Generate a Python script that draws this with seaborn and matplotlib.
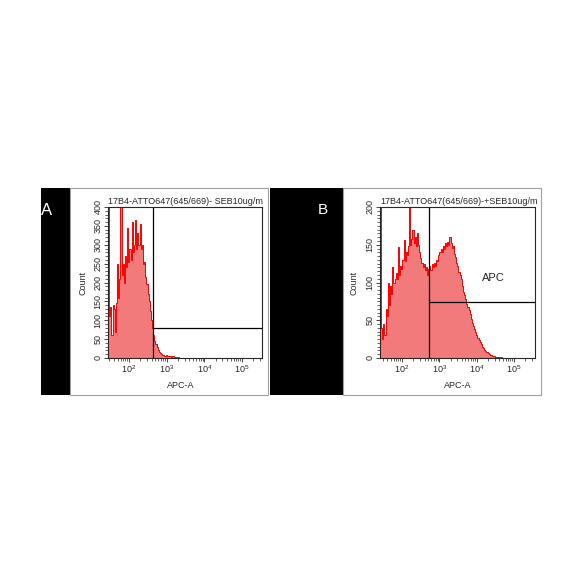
import numpy as np
import pandas as pd
import seaborn as sns
import matplotlib.pyplot as plt
from matplotlib.patches import Rectangle
from matplotlib.ticker import MultipleLocator

# =============================================================================
# DONNEES
# =============================================================================
# largeur des classes en log10, debut de chaque histogramme
largeur_bin = 0.03
debut_a = 1.44
debut_b = 1.41

# Panneau A : -SEB
counts_a = [430, 110, 135, 60, 140, 130, 70, 145, 250, 160,
            210, 410, 220, 250, 200, 270, 240, 345, 255, 290,
            260, 360, 280, 300, 365, 290, 330, 300, 355, 290,
            300, 250, 255, 215, 195, 170, 150, 125, 100, 80,
            60, 45, 36, 28, 22, 16, 13, 11, 8, 9,
            6, 7, 5, 6, 4, 5, 3, 4, 2, 3,
            2, 1, 2, 1, 1, 0, 1]

# Panneau B : +SEB
counts_b = [230, 40, 25, 45, 30, 65, 55, 99, 70, 95,
            85, 120, 100, 105, 112, 104, 147, 110, 122, 118,
            130, 156, 128, 140, 136, 148, 205, 150, 158, 170,
            152, 160, 148, 166, 150, 140, 132, 126, 120, 124,
            116, 120, 110, 118, 122, 116, 124, 120, 126, 122,
            130, 128, 136, 140, 144, 140, 148, 145, 152, 148,
            154, 150, 160, 152, 146, 148, 138, 134, 126, 122,
            114, 110, 104, 96, 88, 84, 78, 72, 68, 64,
            58, 52, 47, 43, 38, 34, 31, 27, 24, 21,
            18, 15, 13, 11, 9, 8, 6, 5, 4, 4,
            3, 2, 2, 1, 1, 1, 1, 0, 1, 0]

titres = ["17B4-ATTO647(645/669)- SEB10ug/m", "17B4-ATTO647(645/669)-+SEB10ug/m"]
lettres = ["A", "B"]
ymax = [400, 200]
gate_x = [430, 525]
gate_y = [80, 74]
xlims = [(10 ** 1.44, 10 ** 5.53), (10 ** 1.41, 10 ** 5.56)]

# =============================================================================
# FIGURE
# =============================================================================
sns.set_style("ticks")
plt.rcParams['font.family'] = ['Liberation Sans', 'DejaVu Sans']

W = 584
fig = plt.figure(figsize=(5.84, 5.84), dpi=100)
fig.patch.set_facecolor("white")


def px(x0, y0, x1, y1):
    # pixels -> fraction de figure
    return [x0 / W, 1 - y1 / W, (x1 - x0) / W, (y1 - y0) / W]


# fonds noirs + cadres blancs (sous les axes)
for (bx0, bx1, wx0, wx1) in [(41, 70, 70, 268), (270, 343, 343, 541)]:
    r = px(bx0, 188, bx1, 395)
    fig.add_artist(Rectangle((r[0], r[1]), r[2], r[3], transform=fig.transFigure,
                             facecolor="black", edgecolor="none", zorder=-10))
    r = px(wx0, 188, wx1, 395)
    fig.add_artist(Rectangle((r[0], r[1]), r[2], r[3], transform=fig.transFigure,
                             facecolor="white", edgecolor="#a0a0a0", linewidth=0.8, zorder=-9))

fig.text(47 / W, 1 - 211 / W, lettres[0], color="white", fontsize=12, ha="center", va="center")
fig.text(323 / W, 1 - 210 / W, lettres[1], color="white", fontsize=11, ha="center", va="center")

axes = [fig.add_axes(px(108, 207, 262, 358)), fig.add_axes(px(380, 207, 535, 358))]
xlabel_x = [0.47, 0.5]

for i, (ax, counts, debut) in enumerate(zip(axes, [counts_a, counts_b], [debut_a, debut_b])):
    n = len(counts)
    edges = debut + largeur_bin * np.arange(n + 1)
    centres = 10 ** (edges[:-1] + largeur_bin / 2)
    df = pd.DataFrame({"APC": centres, "n": counts})

    sns.histplot(data=df, x="APC", weights="n", bins=list(edges), log_scale=True,
                 element="step", fill=True, color="#f27a7a", edgecolor="#ff0000",
                 linewidth=0.7, alpha=1, ax=ax)

    ax.set_xlim(*xlims[i])
    ax.set_ylim(0, ymax[i])
    ax.yaxis.set_major_locator(MultipleLocator(50))
    ax.yaxis.set_minor_locator(MultipleLocator(10 if ymax[i] == 400 else 5))

    # gate
    ax.axvline(gate_x[i], color="black", linewidth=0.9)
    ax.hlines(gate_y[i], gate_x[i], xlims[i][1], color="black", linewidth=0.9)

    for s in ax.spines.values():
        s.set_visible(True)
        s.set_linewidth(0.8)
    ax.tick_params(axis="both", which="major", labelsize=6.5, length=3, width=0.6, pad=1)
    ax.tick_params(axis="both", which="minor", length=2, width=0.5)
    ax.tick_params(axis="y", labelrotation=90)
    for lbl in ax.get_yticklabels():
        lbl.set_va("center")

    ax.set_ylabel("Count", fontsize=6.5)
    ax.yaxis.set_label_coords(-0.136, 0.5)
    ax.set_xlabel("APC-A", fontsize=6.5)
    ax.xaxis.set_label_coords(xlabel_x[i], -0.152)
    ax.set_title(titres[i], loc="left", fontsize=6.5, pad=2)

axes[1].text(10 ** 4.44, 106, "APC", fontsize=8, ha="center", va="center")

fig.savefig("out.png", dpi=100)
